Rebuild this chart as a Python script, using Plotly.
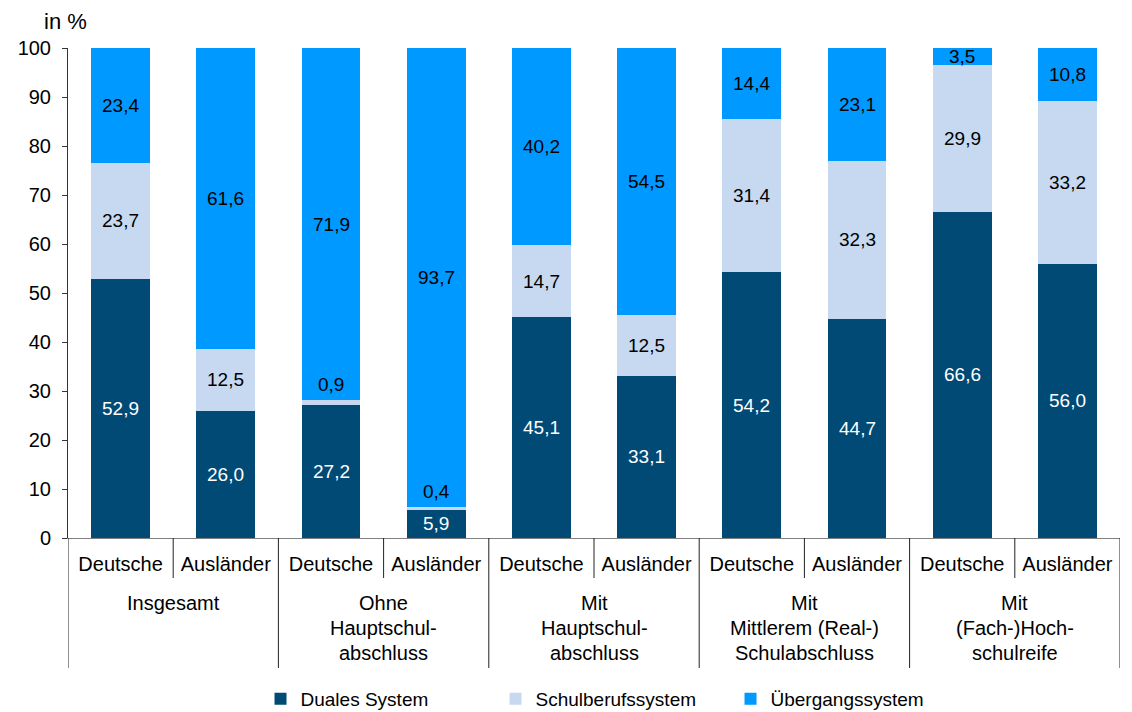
import plotly.graph_objects as go

# Data: share of new entrants per training sector, in %
groups = [
    ["Insgesamt"],
    ["Ohne", "Hauptschul-", "abschluss"],
    ["Mit", "Hauptschul-", "abschluss"],
    ["Mit", "Mittlerem (Real-)", "Schulabschluss"],
    ["Mit", "(Fach-)Hoch-", "schulreife"],
]
nations = ["Deutsche", "Ausländer"] * 5

duales = [52.9, 26.0, 27.2, 5.9, 45.1, 33.1, 54.2, 44.7, 66.6, 56.0]
schulberuf = [23.7, 12.5, 0.9, 0.4, 14.7, 12.5, 31.4, 32.3, 29.9, 33.2]
uebergang = [23.4, 61.6, 71.9, 93.7, 40.2, 54.5, 14.4, 23.1, 3.5, 10.8]

series = [
    ("Duales System", duales, "#004A75", "white"),
    ("Schulberufssystem", schulberuf, "#C6D9F1", "black"),
    ("Übergangssystem", uebergang, "#0099FF", "black"),
]

FONT = "Liberation Sans, Arial, sans-serif"
W, H = 1132, 712
M_L, M_R, M_T, M_B = 68, 12, 48, 174
PLOT_W = W - M_L - M_R
PLOT_H = H - M_T - M_B

def py(px):
    """pixel offset below the x axis -> paper coordinate"""
    return -px / PLOT_H

xs = list(range(len(nations)))
fig = go.Figure()
annotations = []
base = [0.0] * len(xs)
for name, vals, color, tcolor in series:
    fig.add_trace(go.Bar(
        x=xs, y=vals, name=name, marker=dict(color=color, line=dict(width=0)),
        hoverinfo="skip",
    ))
    for i, v in enumerate(vals):
        txt = f"{v:.1f}".replace(".", ",")
        if v < 2:
            annotations.append(dict(
                x=i, y=base[i] + v, xref="x", yref="y", text=txt, showarrow=False,
                yanchor="bottom", yshift=3, font=dict(size=19, color="black", family=FONT)))
        else:
            annotations.append(dict(
                x=i, y=base[i] + v / 2, xref="x", yref="y", text=txt, showarrow=False,
                font=dict(size=19, color=tcolor, family=FONT)))
        base[i] += v

# group labels below the category labels
for g, lines in enumerate(groups):
    for k, line in enumerate(lines):
        annotations.append(dict(
            x=2 * g + 0.5, y=py(65 + 25 * k), xref="x", yref="paper", text=line,
            showarrow=False, yanchor="middle", font=dict(size=20, color="black", family=FONT)))

# unit label above the y axis
annotations.append(dict(
    x=(65 - M_L) / PLOT_W, y=1 + (M_T - 21) / PLOT_H, xref="paper", yref="paper",
    text="in %", showarrow=False, xanchor="center", yanchor="middle",
    font=dict(size=22, color="black", family=FONT)))

shapes = []
# short dividers between Deutsche / Ausländer
for g in range(5):
    shapes.append(dict(type="line", xref="x", yref="paper", x0=2 * g + 0.5, x1=2 * g + 0.5,
                       y0=0, y1=py(40), line=dict(color="#222", width=1)))
# long dividers between groups
for g in range(6):
    shapes.append(dict(type="line", xref="x", yref="paper", x0=2 * g - 0.5, x1=2 * g - 0.5,
                       y0=0, y1=py(130), line=dict(color="#222", width=1)))

fig.update_layout(
    width=W, height=H,
    margin=dict(l=M_L, r=M_R, t=M_T, b=M_B, autoexpand=False),
    barmode="stack", bargap=0.44,
    plot_bgcolor="white", paper_bgcolor="white",
    font=dict(family=FONT, size=19, color="black"),
    annotations=annotations, shapes=shapes,
    legend=dict(orientation="h", x=0.183, xanchor="left", y=py(142), yanchor="top",
                font=dict(size=19, family=FONT), entrywidth=190, entrywidthmode="pixels",
                traceorder="normal"),
    xaxis=dict(range=[-0.5, 9.5], tickvals=xs, ticktext=nations, showline=True,
               linecolor="#808080", linewidth=1, ticks="", showgrid=False, zeroline=False,
               tickfont=dict(size=20), ticklabelstandoff=8, fixedrange=True),
    yaxis=dict(range=[0, 100], dtick=10, showline=True, linecolor="#333", linewidth=1,
               ticks="outside", ticklen=5, tickcolor="#333", showgrid=False, zeroline=False,
               tickfont=dict(size=20), ticklabelstandoff=7, fixedrange=True),
)

fig.write_html("out.html")
